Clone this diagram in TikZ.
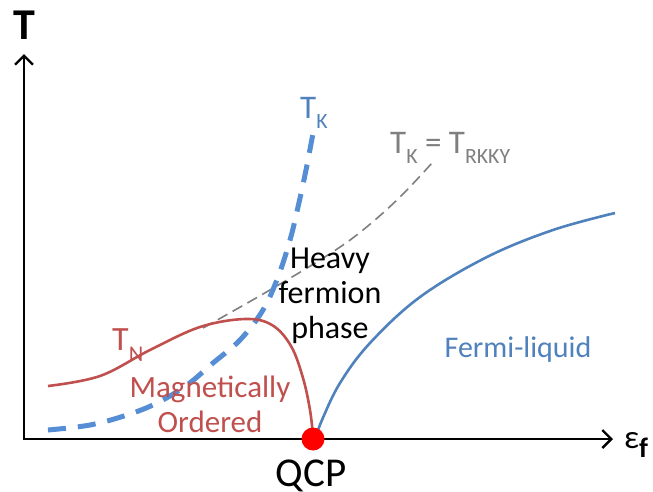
\documentclass[tikz,border=0pt]{standalone}
\usepackage{fontspec}
\usepackage{graphicx}
\setmainfont{Carlito}
\usetikzlibrary{arrows.meta}
\definecolor{redc}{HTML}{C0504D}
\definecolor{bluec}{HTML}{4F81BD}
\definecolor{blued}{HTML}{558ED5}
\definecolor{grayc}{HTML}{7F7F7F}
\newcommand\lsub[1]{\raisebox{-0.33em}{\scalebox{0.66}{#1}}}
\tikzset{barb/.tip={Straight Barb[length=9pt,width=18pt,line width=2.4pt]}}
\begin{document}
\begin{tikzpicture}[x=1pt,y=-1pt,
  axis/.style={line width=2.6pt,black,line join=miter},
  redcurve/.style={redc,line width=2.6pt},
  bluecurve/.style={bluec,line width=2.6pt},
  bluedash/.style={blued,line width=5pt,dash pattern=on 18pt off 12pt},
  graydash/.style={grayc,line width=1.6pt,dash pattern=on 11pt off 6pt},
  lab/.style={inner sep=0pt,font=\fontsize{33}{38}\selectfont},
  qcpdot/.style={circle,fill=red,draw=none,minimum size=23pt,inner sep=0pt}
]
\useasboundingbox (0,0) rectangle (653,491);
\coordinate (O) at (24,439);
\coordinate (ytip) at (24,54);
\coordinate (xtip) at (613,439);
\draw[axis,barb-barb] (ytip) -- (O) -- (xtip);

% gray dashed T_K = T_RKKY
\draw[graydash] plot[smooth,tension=0.6] coordinates {(203,328) (263,294) (320,260) (358,234) (398,199) (432,163)};
% blue dashed T_K
\draw[bluedash] plot[smooth,tension=0.6] coordinates {(48,430) (90,425) (127,415) (157,403) (187,385) (213,363) (240,340) (263,310) (278,277) (290,240) (298,207) (306,170) (314,128)};
% red T_N
\draw[redcurve] plot[smooth,tension=0.6] coordinates {(48,386) (100,376) (150,350) (200,327) (245,319) (272,325) (291,346) (303,378) (310,410) (313,436)};
% blue Fermi-liquid boundary
\draw[bluecurve] plot[smooth,tension=0.6] coordinates {(316,437) (322,420) (340,383) (370,343) (420,297) (487,257) (553,230) (615,213)};

\node[qcpdot] (qcp) at (313,439) {};

\node[lab,font=\fontsize{44}{48}\selectfont\bfseries] (Tlab) at (24,25) {T};
\node[lab,anchor=base west,font=\fontsize{33}{36}\selectfont] (eps) at (624,448) {ε\raisebox{-0.3em}{\scalebox{0.85}{\bfseries f}}};
\node[lab,anchor=base,font=\fontsize{41}{46}\selectfont] (qcplab) at (311,486) {QCP};
\node[lab,anchor=base west,text=bluec] (TK) at (300,118) {T\lsub{K}};
\node[lab,anchor=base west,text=grayc] (TKR) at (390,153) {T\lsub{K} = T\lsub{RKKY}};
\node[lab,anchor=base west,text=redc,font=\fontsize{34}{38}\selectfont] (TN) at (112,350) {T\lsub{N}};
\node[lab,align=center,anchor=base,font=\fontsize{32}{35}\selectfont] (heavy) at (330,338) {Heavy\\fermion\\phase};
\node[lab,align=center,anchor=base,text=redc,font=\fontsize{31}{35}\selectfont] (mag) at (210,432) {Magnetically\\Ordered};
\node[lab,anchor=base,text=bluec,font=\fontsize{30}{34}\selectfont] (fl) at (518,357) {Fermi-liquid};
\end{tikzpicture}
\end{document}
